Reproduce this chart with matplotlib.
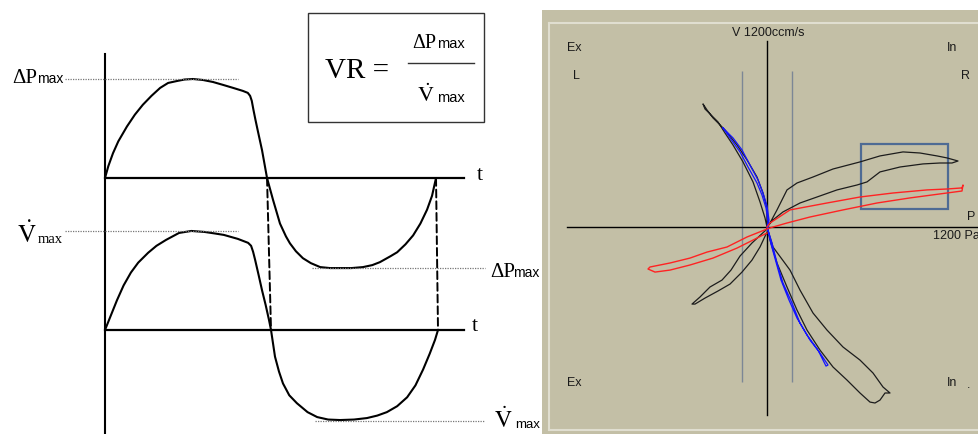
import matplotlib
matplotlib.use("Agg")
import matplotlib.pyplot as plt
from matplotlib.patches import Rectangle, ConnectionPatch

plt.rcParams["mathtext.fontset"] = "stix"

SERIF = "Liberation Serif"
NARROW = ["Liberation Sans Narrow", "Liberation Sans"]
SANS = "Liberation Sans"

# --- schematic: pressure and flow over one breath (t in cycles, values normalised) ---
t_p = [0.00, 0.01, 0.024, 0.04, 0.066, 0.09, 0.114, 0.14, 0.166, 0.19, 0.217,
       0.24, 0.265, 0.295, 0.325, 0.356, 0.386, 0.415, 0.430, 0.437, 0.442,
       0.447, 0.453, 0.460, 0.473, 0.488, 0.506, 0.527, 0.545, 0.557, 0.575,
       0.596, 0.62, 0.648, 0.678, 0.708, 0.742, 0.777, 0.805, 0.828, 0.860,
       0.880, 0.905, 0.928, 0.950, 0.970, 0.985, 0.997]
p_vals = [0.00, 0.12, 0.25, 0.37, 0.52, 0.64, 0.74, 0.83, 0.91, 0.96, 0.98,
          0.995, 1.00, 0.99, 0.97, 0.94, 0.91, 0.88, 0.86, 0.83, 0.78,
          0.69, 0.59, 0.48, 0.28, 0.00, -0.22, -0.46, -0.59, -0.66, -0.74,
          -0.81, -0.86, -0.90, -0.91, -0.91, -0.91, -0.90, -0.88, -0.85, -0.79,
          -0.75, -0.67, -0.58, -0.46, -0.32, -0.18, 0.00]

t_v = [0.00, 0.012, 0.024, 0.036, 0.056, 0.078, 0.10, 0.13, 0.155, 0.184, 0.223,
       0.26, 0.30, 0.33, 0.358, 0.40, 0.431, 0.440, 0.446, 0.452, 0.463, 0.473,
       0.484, 0.494, 0.500, 0.512, 0.524, 0.536, 0.555, 0.578, 0.61, 0.639,
       0.672, 0.708, 0.75, 0.789, 0.82, 0.849, 0.88, 0.910, 0.935, 0.958,
       0.978, 0.994, 1.003]
v_vals = [0.00, 0.10, 0.20, 0.30, 0.45, 0.58, 0.68, 0.78, 0.85, 0.91, 0.98,
          1.00, 0.99, 0.975, 0.96, 0.92, 0.88, 0.85, 0.79, 0.71, 0.55, 0.40,
          0.25, 0.10, 0.00, -0.27, -0.42, -0.54, -0.66, -0.74, -0.83, -0.88,
          -0.905, -0.91, -0.905, -0.89, -0.865, -0.83, -0.77, -0.68, -0.56, -0.40,
          -0.24, -0.10, 0.00]

dp_max, dp_min = 1.0, -0.91
v_max, v_min = 1.0, -0.92
p_zero_cross = [0.488, 0.997]
v_zero_cross = [0.500, 1.003]

# --- loops from the measuring device (P in Pa, V in ccm/s) ---
blue_p = [-264, -222, -162, -114, -60, -30, -6, 6, 0, 30, 60, 96, 150, 198, 258,
          318, 366, 354, 306, 240, 180, 132, 84, 54, 24, 6, 12, 0, -24, -54,
          -102, -150, -204, -246, -264]
blue_v = [644, 579, 488, 390, 286, 208, 124, 33, 0, -104, -234, -364, -494, -624,
          -735, -819, -897, -904, -800, -702, -592, -475, -345, -228, -111, -20,
          46, 137, 221, 306, 403, 501, 579, 624, 644]

loop1_p = [0, 36, 138, 198, 276, 360, 456, 558, 636, 696, 738, 708, 678, 648, 618,
           558, 480, 396, 318, 240, 180, 120, 60, 18, 0, 0, -24, -60, -120, -180,
           -252, -324, -360, -384, -372, -354, -294, -252, -204, -144, -84, -42,
           -12, 0]
loop1_v = [0, -130, -280, -410, -559, -670, -780, -865, -949, -1040, -1079, -1079,
           -1125, -1144, -1138, -1079, -995, -910, -800, -670, -540, -390, -234,
           -85, 0, 124, 221, 325, 436, 533, 631, 709, 761, 800, 767, 748, 683, 611,
           533, 423, 293, 163, 59, 0]

loop2_p = [0, 18, 60, 120, 180, 276, 396, 558, 678, 816, 918, 1020, 1080, 1146,
           1110, 1038, 936, 798, 678, 600, 540, 420, 300, 198, 96, 36, 0, 0, -90,
           -162, -216, -270, -342, -402, -450, -432, -372, -294, -222, -150, -90,
           -42, 0]
loop2_v = [0, 26, 111, 241, 286, 325, 377, 423, 462, 488, 481, 462, 449, 429,
           416, 416, 410, 390, 358, 293, 273, 241, 195, 156, 98, 46, 0, -13, -104,
           -189, -280, -345, -390, -455, -501, -501, -462, -416, -371, -293, -215,
           -130, -33]

red_p = [0, 18, 138, 360, 558, 756, 960, 1080, 1170, 1176, 1170, 1038, 858, 660,
         456, 258, 120, 36, 0, -120, -240, -360, -462, -582, -702, -714, -672,
         -582, -462, -324, -180, -84, 0]
red_v = [0, 26, 111, 156, 195, 221, 241, 247, 254, 273, 234, 215, 189, 156, 111,
         65, 26, 0, -13, -65, -130, -163, -202, -234, -260, -273, -293, -280,
         -247, -202, -137, -85, -39]

guide_p = [-150, 150]
box_p = (565, 1085)
box_v = (117, 540)

fig = plt.figure(figsize=(9.79, 4.34), dpi=100)
fig.patch.set_facecolor("white")

left_rect = [0, 0, 540 / 979, 1]
axP = fig.add_axes(left_rect, label="pressure")
axV = fig.add_axes(left_rect, label="flow")
for ax in (axP, axV):
    ax.set_xlim(-0.3163, 1.3102)
    ax.axis("off")
    ax.patch.set_alpha(0)
axP.set_ylim(-2.586, 1.798)
axV.set_ylim(-1.051, 3.333)

# axes of the schematic
axP.plot([0, 0], [1.253, -2.586], color="black", lw=1.5, clip_on=False)
axP.plot([0, 1.081], [0, 0], color="black", lw=1.6)
axV.plot([0, 1.081], [0, 0], color="black", lw=1.6)
axP.text(1.12, 0.03, "t", family=SERIF, fontsize=16, ha="left", va="center")
axV.text(1.105, 0.03, "t", family=SERIF, fontsize=16, ha="left", va="center")

curve = dict(color="black", lw=1.5, solid_joinstyle="round", solid_capstyle="round")
axP.plot(t_p, p_vals, **curve)
axV.plot(t_v, v_vals, **curve)

dot = dict(color="#777777", lw=0.9, ls=(0, (1, 1)))
axP.plot([-0.12, 0.40], [dp_max, dp_max], **dot)
axP.plot([0.623, 1.145], [dp_min, dp_min], **dot)
axV.plot([-0.12, 0.40], [v_max, v_max], **dot)
axV.plot([0.633, 1.145], [v_min, v_min], **dot)

for tp, tv in zip(p_zero_cross, v_zero_cross):
    con = ConnectionPatch(xyA=(tp, 0), coordsA=axP.transData,
                          xyB=(tv, 0), coordsB=axV.transData,
                          color="black", lw=1.4, ls=(0, (4, 2)))
    fig.add_artist(con)

# level labels
axP.text(-0.205, 0.96, "\u0394P", family=SERIF, fontsize=15, ha="right", va="baseline")
axP.text(-0.205, 0.96, "max", family=NARROW, fontsize=10, ha="left", va="baseline")
axV.text(-0.265, 0.88, r"$\dot{\mathrm{V}}$", fontsize=18, ha="left", va="baseline")
axV.text(-0.203, 0.88, "max", family=SERIF, fontsize=10.5, ha="left", va="baseline")

axP.text(1.16, -1.0, "\u0394P", family=SERIF, fontsize=15, ha="left", va="baseline")
axP.text(1.229, -1.0, "max", family=NARROW, fontsize=10, ha="left", va="baseline")
axV.text(1.172, -0.99, r"$\dot{\mathrm{V}}$", fontsize=17, ha="left", va="baseline")
axV.text(1.236, -0.99, "max", family=NARROW, fontsize=9.5, ha="left", va="baseline")

# formula box
axP.add_patch(Rectangle((0.611, 0.566), 0.531, 1.101, fill=False,
                        ec="#333333", lw=1.0))
axP.text(0.663, 1.01, "VR =", family=SERIF, fontsize=21, ha="left", va="baseline")
axP.plot([0.913, 1.111], [1.162, 1.162], color="#333333", lw=1.0)
axP.text(0.925, 1.313, "\u0394P", family=SERIF, fontsize=14.5, ha="left", va="baseline")
axP.text(1.0, 1.313, "max", family=NARROW, fontsize=10.5, ha="left", va="baseline")
axP.text(0.940, 0.768, r"$\dot{\mathrm{V}}$", fontsize=16, ha="left", va="baseline")
axP.text(1.0, 0.768, "max", family=NARROW, fontsize=10.5, ha="left", va="baseline")

# --- device screen ---
axR = fig.add_axes([542 / 979, 0, 437 / 979, 424 / 434])
axR.set_facecolor("#c3bfa6")
axR.set_xlim(-1350, 1272)
axR.set_ylim(-1345.5, 1410.5)
for s in axR.spines.values():
    s.set_visible(False)
axR.set_xticks([])
axR.set_yticks([])

frame = "#e0ded0"
axR.plot([0.016, 0.016], [0.0094, 0.969], color=frame, lw=1.5, transform=axR.transAxes)
axR.plot([0.016, 1.0], [0.969, 0.969], color=frame, lw=1.5, transform=axR.transAxes)
axR.plot([0.016, 1.0], [0.0094, 0.0094], color=frame, lw=1.5, transform=axR.transAxes)

axR.vlines(guide_p, -1007, 1014, color="#7c8796", lw=1.0)
axR.plot([0, 0], [-1222, 1209], color="black", lw=1.0)
axR.plot([-1200, 1272], [0, 0], color="black", lw=1.0)

axR.plot(loop1_p, loop1_v, color="#1c1c1c", lw=0.9)
axR.plot(loop2_p, loop2_v, color="#1c1c1c", lw=0.9)
axR.plot(blue_p, blue_v, color="#1414ff", lw=0.9)
axR.plot(red_p, red_v, color="#ff2222", lw=1.0)

axR.add_patch(Rectangle((box_p[0], box_v[0]), box_p[1] - box_p[0], box_v[1] - box_v[0],
                        fill=False, ec="#4e6b94", lw=1.6))

lab = dict(family=SANS, fontsize=9, color="#1a1a1a")
axR.text(6, 1261, "V 1200ccm/s", ha="center", va="center", **lab)
axR.text(-1200, 1163, "Ex", ha="left", va="center", **lab)
axR.text(-1164, 981, "L", ha="left", va="center", **lab)
axR.text(1080, 1163, "In", ha="left", va="center", **lab)
axR.text(1164, 981, "R", ha="left", va="center", **lab)
axR.text(1200, 65, "P", ha="left", va="center", **lab)
axR.text(996, -58, "1200 Pa", ha="left", va="center", clip_on=True, **lab)
axR.text(-1200, -1014, "Ex", ha="left", va="center", **lab)
axR.text(1080, -1014, "In", ha="left", va="center", **lab)
axR.text(1198, -1030, ".", ha="left", va="center", **lab)

fig.savefig("out.png", dpi=100)
